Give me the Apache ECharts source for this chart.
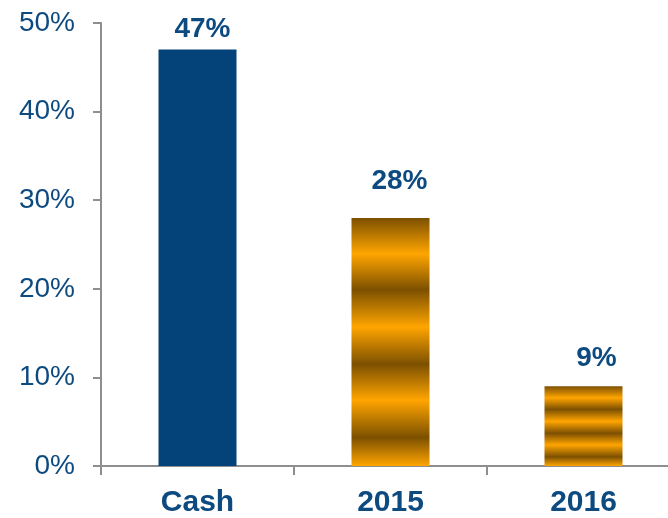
<!DOCTYPE html>
<html>
<head>
<meta charset="utf-8">
<script src="https://cdn.jsdelivr.net/npm/echarts@6/dist/echarts.min.js"></script>
<style>
html,body{margin:0;padding:0;background:#fff;overflow:hidden;width:668px;height:518px;}
#chart{width:680px;height:518px;}
</style>
</head>
<body>
<div id="chart"></div>
<script>
// Data
const categories = ['Cash', '2015', '2016'];
const values = [47, 28, 9];
const yTicks = [0, 10, 20, 30, 40, 50];

// Styling (not data)
const blue = '#03437a';
const textBlue = '#0d4a80';
const dark = '#7c5000';
const light = '#ffa500';
const stripe = {
  type: 'linear', x: 0, y: 0, x2: 0, y2: 1,
  colorStops: [
    {offset: 0.00, color: dark},
    {offset: 0.145, color: light},
    {offset: 0.29, color: dark},
    {offset: 0.44, color: light},
    {offset: 0.59, color: dark},
    {offset: 0.735, color: light},
    {offset: 0.885, color: dark},
    {offset: 1.00, color: light}
  ]
};
const fills = [blue, stripe, stripe];
const labelDist = [6, 23, 14];
const labelDx = [5, 9, 13];

const chart = echarts.init(document.getElementById('chart'), null, {renderer: 'canvas'});
chart.setOption({
  animation: false,
  grid: {left: 101, right: 0, top: 23, bottom: 52, containLabel: false, outerBoundsMode: 'none'},
  xAxis: {
    type: 'category',
    data: categories,
    axisLine: {show: true, lineStyle: {color: '#8e8e8e', width: 2}},
    axisTick: {show: true, length: 9, lineStyle: {color: '#8e8e8e', width: 2}},
    axisLabel: {
      color: textBlue, fontSize: 30, fontWeight: 'bold',
      fontFamily: '"Liberation Sans", Arial, sans-serif', margin: 22
    }
  },
  yAxis: {
    type: 'value',
    min: yTicks[0], max: yTicks[yTicks.length - 1], interval: 10,
    splitLine: {show: false},
    axisLine: {show: true, lineStyle: {color: '#8e8e8e', width: 2}},
    axisTick: {show: true, length: 8, lineStyle: {color: '#8e8e8e', width: 2}},
    axisLabel: {
      color: textBlue, fontSize: 28,
      fontFamily: '"Liberation Sans", Arial, sans-serif', margin: 26,
      formatter: v => v + '%'
    }
  },
  series: [{
    type: 'bar',
    barWidth: 78,
    data: values.map((v, i) => ({
      value: v,
      itemStyle: {color: fills[i]},
      label: {
        show: true, position: 'top', distance: labelDist[i], offset: [labelDx[i], 0],
        formatter: '{c}%', color: textBlue, fontSize: 28, fontWeight: 'bold',
        fontFamily: '"Liberation Sans", Arial, sans-serif'
      }
    }))
  }]
});
</script>
</body>
</html>
